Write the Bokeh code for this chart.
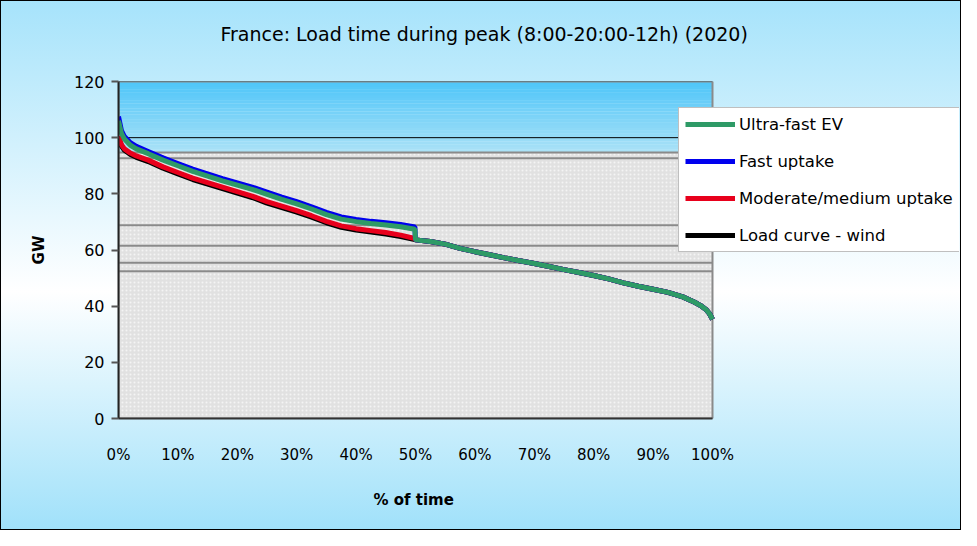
import numpy as np
from bokeh.plotting import figure
from bokeh.models import Range1d, Legend, LegendItem, FixedTicker, Title
from bokeh.embed import file_html
from bokeh.resources import INLINE

# ---------------- data ----------------
title_text = "France: Load time during peak (8:00-20:00-12h) (2020)"
x_title = "% of time"
y_title = "GW"
x_ticks = [0, 10, 20, 30, 40, 50, 60, 70, 80, 90, 100]
x_tick_labels = ["0%", "10%", "20%", "30%", "40%", "50%", "60%", "70%", "80%", "90%", "100%"]
y_ticks = [0, 20, 40, 60, 80, 100, 120]

# capacity bands (grey stacked area boundaries, GW)
capacity_levels = [52.4, 55.5, 61.5, 68.8, 92.7, 94.7]

# first half of the duration curve (% of time) where the scenarios differ
head_pct = [0, 0.5, 1, 2, 3, 5, 7.5, 10, 12.5, 15, 17.5, 20, 22.5, 25, 27.5,
            30, 32.5, 35, 37.5, 40, 42.5, 45, 47.5, 49.9]
ultra_fast_head = [106.0, 101.5, 99.5, 97.3, 96.0, 94.3, 92.0, 90.0, 88.0, 86.3, 84.6, 83.1, 81.6, 79.8, 78.0,
                   76.4, 74.6, 72.6, 71.0, 70.1, 69.4, 68.9, 68.3, 67.4]
fast_head = [107.5, 102.5, 100.4, 98.2, 96.9, 95.1, 92.8, 90.8, 88.8, 87.1, 85.4, 83.9, 82.4, 80.6, 78.8,
             77.2, 75.4, 73.4, 71.8, 70.9, 70.2, 69.7, 69.1, 68.2]
moderate_head = [100.5, 97.5, 96.0, 94.5, 93.5, 92.0, 89.6, 87.6, 85.6, 84.0, 82.4, 80.8, 79.2, 77.2, 75.6,
                 74.0, 72.2, 70.2, 68.6, 67.6, 66.9, 66.2, 65.3, 64.1]
wind_head = [100.0, 97.0, 95.5, 94.0, 93.0, 91.5, 89.1, 87.1, 85.1, 83.5, 81.9, 80.3, 78.7, 76.7, 75.1,
             73.5, 71.7, 69.7, 68.1, 67.1, 66.4, 65.7, 64.8, 63.7]

# second half, identical for all scenarios
tail_pct = [50, 52.5, 55, 57.5, 60, 62.5, 65, 67.5, 70, 72.5, 75, 77.5, 80, 82.5, 85, 87.5,
            90, 92.5, 95, 97, 98, 99, 99.5, 100]
tail_gw = [63.6, 63.0, 62.1, 60.6, 59.4, 58.3, 57.2, 56.2, 55.2, 54.1, 53.0, 52.0, 50.9, 49.7, 48.3, 47.1,
           46.0, 44.9, 43.3, 41.4, 40.2, 38.6, 37.3, 35.3]

series_names = ["Ultra-fast EV", "Fast uptake", "Moderate/medium uptake", "Load curve - wind"]
series_colors = ["#2e9a66", "#0000ee", "#e8001c", "#000000"]

# ---------------- layout ----------------
FONT = "DejaVu Sans"
W, H = 961, 530
BL, BR, BT, BB = 118, 2, 81, 112
AREA_W = 594                       # pixel width of the 0..100 % plot area
FRAME_W = W - BL - BR
x_end = 100.0 * FRAME_W / AREA_W   # frame extends right so the legend can overlap

p = figure(width=W, height=H,
           x_range=Range1d(0, x_end), y_range=Range1d(0, 120),
           output_backend="svg", toolbar_location=None,
           min_border_left=BL, min_border_right=BR, min_border_top=BT, min_border_bottom=BB,
           background_fill_color=None, border_fill_color=None,
           outline_line_color=None,
           styles={"background": "linear-gradient(to bottom, #a6e3fb 0%, #ffffff 55%, #a0e1fa 100%)",
                   "outline": "1px solid #000000", "outline-offset": "-1px"})

# spacer title closest to the plot, real title above it
p.add_layout(Title(text=" ", text_font_size="10px", standoff=24, text_color="#000000"), "above")
p.title.text = title_text
p.title.align = "left"
p.title.offset = 102
p.title.text_font = FONT
p.title.text_font_size = "19px"
p.title.text_font_style = "normal"
p.title.text_color = "#000000"
p.title.standoff = 0

# sky gradient above the grey capacity area
edges = np.linspace(capacity_levels[-1], y_ticks[-1], 27)
top_c = np.array([0x50, 0xc6, 0xf9])
bot_c = np.array([0xaa, 0xe2, 0xf7])
for i in range(len(edges) - 1):
    t = i / (len(edges) - 2)
    c = (bot_c * (1 - t) + top_c * t).astype(int)
    p.quad(left=x_ticks[0], right=x_ticks[-1], bottom=edges[i], top=edges[i + 1] + 0.05,
           fill_color="#%02x%02x%02x" % tuple(c), line_color=None)

# major gridlines (only the 100 GW one remains visible)
p.segment(x0=x_ticks[0], x1=x_ticks[-1], y0=y_ticks, y1=y_ticks, line_color="#000000", line_width=1)

# grey capacity area
p.quad(left=x_ticks[0], right=x_ticks[-1], bottom=0, top=capacity_levels[-1],
       fill_color="#e1e1e1", line_color=None,
       hatch_pattern="dot", hatch_color="#f4f4f4", hatch_scale=4, hatch_weight=1)
p.segment(x0=x_ticks[0], x1=x_ticks[-1], y0=capacity_levels, y1=capacity_levels,
          line_color="#8a8a8a", line_width=2)

# plot-area border
p.quad(left=x_ticks[0], right=x_ticks[-1], bottom=y_ticks[0], top=y_ticks[-1],
       fill_color=None, line_color="#8a8a8a", line_width=2)

# curves
wind = p.line(head_pct + tail_pct, wind_head + tail_gw, line_color=series_colors[3], line_width=5)
moderate = p.line(head_pct + tail_pct, moderate_head + tail_gw, line_color=series_colors[2], line_width=5)
fast = p.line(head_pct + tail_pct, fast_head + tail_gw, line_color=series_colors[1], line_width=5)
ultra = p.line(head_pct + tail_pct, ultra_fast_head + tail_gw, line_color=series_colors[0], line_width=5)

p.xgrid.grid_line_color = None
p.ygrid.grid_line_color = None

# axes
p.xaxis.ticker = FixedTicker(ticks=x_ticks)
p.xaxis.bounds = (x_ticks[0], x_ticks[-1])
p.xaxis.major_label_overrides = {t: l for t, l in zip(x_ticks, x_tick_labels)}
p.xaxis.major_tick_line_color = None
p.xaxis.minor_tick_line_color = None
p.xaxis.major_label_standoff = 21
p.xaxis.major_label_text_font = FONT
p.xaxis.major_label_text_font_size = "15px"
p.xaxis.major_label_text_color = "#000000"
p.xaxis.axis_line_color = "#333333"
p.xaxis.axis_line_width = 2

# x axis title centred under the 0-100 % area (frame is wider because of the legend)
p.add_layout(Title(text=" ", text_font_size="10px", standoff=11, text_color="#000000"), "below")
p.add_layout(Title(text=x_title, align="left", offset=255, vertical_align="top", standoff=0,
                   text_font=FONT, text_font_size="15px", text_font_style="bold",
                   text_color="#000000"), "below")

p.yaxis.ticker = FixedTicker(ticks=y_ticks)
p.yaxis.major_tick_out = 7
p.yaxis.major_tick_in = 0
p.yaxis.major_tick_line_color = "#555555"
p.yaxis.major_tick_line_width = 2
p.yaxis.minor_tick_line_color = None
p.yaxis.major_label_standoff = 7
p.yaxis.major_label_text_font = FONT
p.yaxis.major_label_text_font_size = "16px"
p.yaxis.major_label_text_color = "#000000"
p.yaxis.axis_line_color = "#222222"
p.yaxis.axis_line_width = 2
p.yaxis.axis_label = y_title
p.yaxis.axis_label_text_font = FONT
p.yaxis.axis_label_text_font_size = "15px"
p.yaxis.axis_label_text_font_style = "bold"
p.yaxis.axis_label_text_color = "#000000"
p.yaxis.axis_label_standoff = 23

legend = Legend(items=[LegendItem(label=series_names[0], renderers=[ultra]),
                       LegendItem(label=series_names[1], renderers=[fast]),
                       LegendItem(label=series_names[2], renderers=[moderate]),
                       LegendItem(label=series_names[3], renderers=[wind])],
                location=(560, 166), margin=0, padding=6, spacing=17,
                glyph_width=50, glyph_height=20, label_height=20, label_standoff=4,
                label_text_font=FONT, label_text_font_size="16.5px", label_text_color="#000000",
                background_fill_color="#ffffff", background_fill_alpha=1.0,
                border_line_color="#808080", border_line_width=1)
p.add_layout(legend, "center")

open("out.html", "w").write(file_html(p, INLINE))
